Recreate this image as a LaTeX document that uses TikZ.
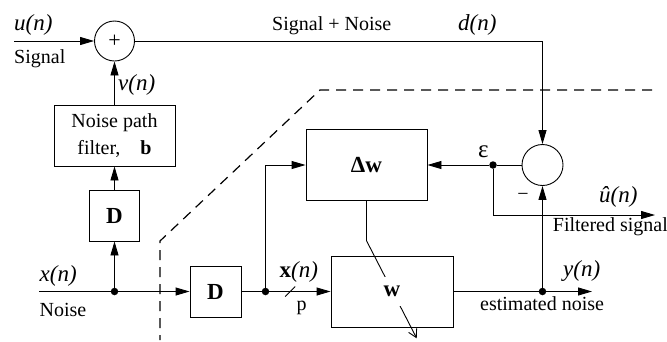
\documentclass[tikz,border=0pt]{standalone}
\usepackage{fontspec}
\setmainfont{Liberation Serif}
\usetikzlibrary{arrows.meta,shapes.geometric,calc}

\begin{document}
\begin{tikzpicture}[x=1pt,y=-1pt,
  font=\fontsize{20}{23}\selectfont,
  wire/.style={line width=0.9pt},
  arr/.style={wire,-{Triangle[length=14pt,width=8pt]}},
  blk/.style={draw,line width=0.9pt,inner sep=0pt,align=center},
  boldlbl/.style={font=\fontsize{23}{26}\selectfont\bfseries},
  junc/.style={circle,fill,inner sep=0pt,minimum size=7.5pt},
  lbl/.style={font=\fontsize{23}{26}\selectfont\itshape,inner sep=0pt,anchor=base west},
  txt/.style={inner sep=0pt,anchor=base west},
  bnd/.style={dash pattern=on 10pt off 7pt,line width=1.2pt}]
\useasboundingbox (0,0) rectangle (667,341);

% blocks
\node[circle,draw,line width=0.9pt,minimum size=40pt,inner sep=0pt,
      font=\fontsize{22}{24}\selectfont] (sum) at (114.5,41) {+};
\node[circle,draw,line width=0.9pt,minimum size=41pt,inner sep=0pt] (sub) at (542.5,165) {};
\node[blk,minimum width=121pt,minimum height=61pt,font=\fontsize{20}{27}\selectfont]
      (filt) at (114.5,135.5) {Noise path\\filter,\quad\textbf{b}};
\node[blk,boldlbl,minimum width=50pt,minimum height=51pt] (D1) at (114.5,215.5) {D};
\node[blk,boldlbl,minimum width=51pt,minimum height=51pt] (D2) at (215.5,291.5) {D};
\node[blk,boldlbl,minimum width=121pt,minimum height=71pt] (dw) at (366.5,165) {Δw};
\node[blk,minimum width=122pt,minimum height=71pt] (w) at (392,291.5) {};

% junction dots
\node[junc] (j1) at (114.5,291.5) {};
\node[junc] (j2) at (265.5,291.5) {};
\node[junc] (j3) at (542.5,291.5) {};
\node[junc] (j4) at (493,165) {};

% free ends and corners
\coordinate (uin) at (14,41);
\coordinate (xin) at (39,291.5);
\coordinate (dcorner) at (542.5,41);
\coordinate (uhat) at (655,215);
\coordinate (yout) at (592,291.5);
\coordinate (a1) at (366.5,240.7);
\coordinate (a2) at (416.7,338.3);

% signal path
\draw[arr] (uin) -- (sum.west);
\draw[arr] (sum.east) -- (dcorner) -- (sub.north);
\draw[arr] (filt.north) -- (sum.south);
\draw[arr] (D1.north) -- (filt.south);
\draw[arr] (j1) -- (D1.south);

% reference noise path
\draw[wire] (xin) -- (j1);
\draw[arr] (j1) -- (D2.west);
\draw[wire] (D2.east) -- (j2);
\draw[arr] (j2) -- (w.west);
\draw[arr] (j2) |- (dw.west);
\draw[wire] ($(j2)!0.38!(w.west)$) ++(-5,5) -- ++(10,-10);

% filter output and error
\draw[wire] (w.east) -- (j3);
\draw[arr] (j3) -- (yout);
\draw[arr] (j3) -- (sub.south);
\draw[wire] (sub.west) -- (j4);
\draw[arr] (j4) -- (dw.east);
\draw[arr] (j4) |- (uhat);

% weight adaptation arrow
\draw[wire] (dw.south) -- (a1);
\draw[wire,-{Straight Barb[length=8pt,width=9pt]}] (a1) -- (a2);
\node[boldlbl,fill=white,inner xsep=2pt,inner ysep=9pt] (wl) at (w.center) {w};

% boundary of the adaptive canceller
\draw[bnd] (652,90) -- (320,90) -- (160,241) -- (160,340);

% labels
\node[lbl] (ulab) at (14,30) {u(n)};
\node[txt] (siglab) at (14,63.5) {Signal};
\node[lbl] (vlab) at (118,90) {v(n)};
\node[txt] (snlab) at (272,30) {Signal + Noise};
\node[lbl] (dlab) at (458,30.5) {d(n)};
\node[lbl] (xlab) at (39.5,281.5) {x(n)};
\node[txt] (noiselab) at (39.5,316.5) {Noise};
\node[lbl] (xvlab) at (279.5,277) {\textbf{\upshape x}(n)};
\node[txt] (plab) at (296.5,310.5) {p};
\node[txt,font=\fontsize{25}{27}\selectfont] (elab) at (478,157) {ε};
\node[inner sep=0pt,anchor=base] (minus) at (523,200) {−};
\node[lbl] (uhlab) at (599,202.5) {û(n)};
\node[txt] (filtlab) at (552.7,231) {Filtered signal};
\node[lbl] (ylab) at (563,276.5) {y(n)};
\node[txt] (estlab) at (480,310) {estimated noise};
\end{tikzpicture}
\end{document}
